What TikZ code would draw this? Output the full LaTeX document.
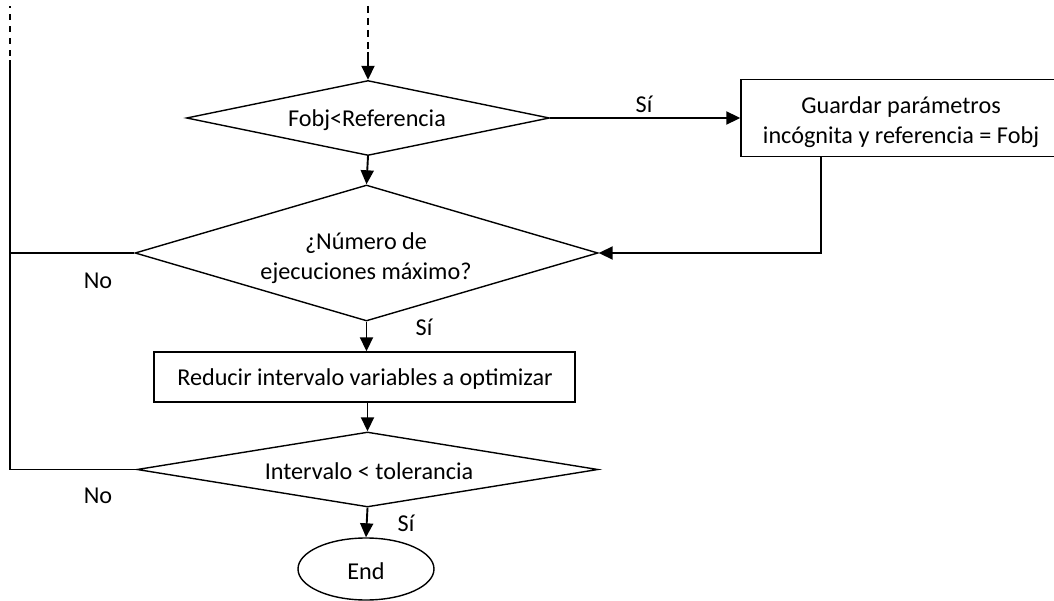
\documentclass[tikz,border=0pt]{standalone}
\usepackage{fontspec}
\setmainfont{Carlito}
\usetikzlibrary{shapes.geometric,arrows.meta}
\begin{document}
\begin{tikzpicture}[x=1pt,y=-1pt,
  font=\fontsize{24.2}{30}\selectfont,
  dec/.style={draw,shape=diamond,line width=1.4pt,inner sep=0pt,align=center},
  proc/.style={draw,rectangle,line width=1.4pt,inner sep=0pt,align=center},
  term/.style={draw,ellipse,line width=1.4pt,inner sep=0pt},
  conn/.style={line width=1.9pt,-{Triangle[length=14pt,width=13pt]}},
  line/.style={line width=1.9pt},
  lbl/.style={inner sep=0pt}]
\useasboundingbox (0,0) rectangle (1054,601);
\clip (0,0) rectangle (1054,601);

\node[dec,minimum width=363pt,minimum height=75pt] (d1) at (368,118) {};
\node[lbl] at (367,120) {Fobj<Referencia};

\node[proc,minimum width=320pt,minimum height=77pt] (b1) at (901,118) {};
\node[lbl,align=center] (b1t) at (901,122) {Guardar parámetros\\incógnita y referencia = Fobj};

\node[dec,minimum width=463pt,minimum height=136pt] (d2) at (366.5,253) {};
\node[lbl,align=center] at (366,258) {¿Número de\\ejecuciones máximo?};

\node[proc,minimum width=421pt,minimum height=50pt] (b2) at (364.5,377) {};
\node[lbl] at (365,379) {Reducir intervalo variables a optimizar};

\node[dec,minimum width=461pt,minimum height=75pt] (d3) at (367.5,469.5) {};
\node[lbl] at (369,471) {Intervalo < tolerancia};

\node[term,minimum width=136pt,minimum height=62pt] (e) at (366,569) {};
\node[lbl] at (366,571) {End};

% incoming dashed arrow
\coordinate (top) at (368,6);
\coordinate (topS) at (368,52);
\draw[line,dash pattern=on 7pt off 5pt] (top) -- (topS);
\draw[conn] (topS) -- (d1.north);

% yes to box1
\draw[conn] (d1.east) -- (b1.west);
\node[lbl] at (644,104) {Sí};

% box1 back to d2
\coordinate (b1b) at (821,157);
\draw[conn] (b1b) |- (d2.east);

% d1 to d2
\draw[conn] (d1.south) -- (d2.north);

% d2 to b2
\draw[conn] (d2.south) -- (d2.south |- b2.north);
\node[lbl] at (424,327) {Sí};

% b2 to d3
\draw[conn] (b2.south -| d3.north) -- (d3.north);

% d3 to end
\draw[conn] (d3.south) -- (e.north);
\node[lbl] at (406,523) {Sí};

% left loop
\coordinate (L1) at (10,253);
\coordinate (L2) at (10,469.5);
\coordinate (Ltop) at (10,60);
\coordinate (Ldash) at (10,6);
\draw[line] (d2.west) -- (L1);
\draw[line] (d3.west) -- (L2) -- (Ltop);
\draw[line,dash pattern=on 6pt off 6pt] (10,56) -- (Ldash);
\node[lbl] at (98,281) {No};
\node[lbl] at (98,496) {No};
\end{tikzpicture}
\end{document}
